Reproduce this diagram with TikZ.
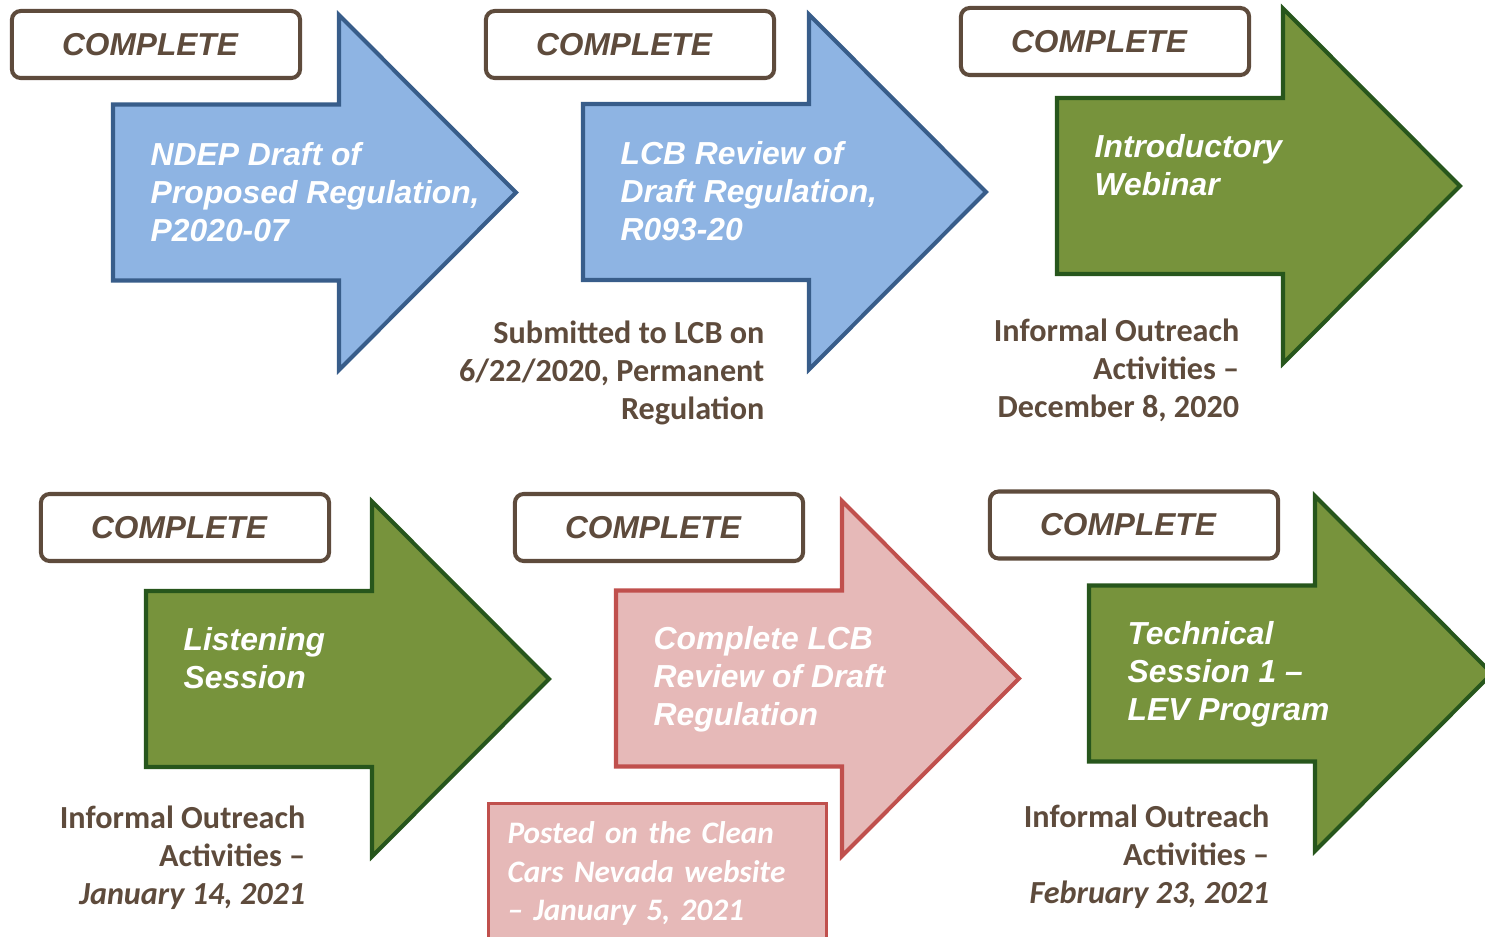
\documentclass[tikz,border=0pt]{standalone}
\usepackage{fontspec}
\setmainfont{Liberation Sans}
\newfontfamily\calibri{Carlito}
\usetikzlibrary{positioning}

\definecolor{brownline}{HTML}{5E4B3C}
\definecolor{fillblue}{HTML}{8EB4E3}
\definecolor{lineblue}{HTML}{385D8A}
\definecolor{fillgreen}{HTML}{77933C}
\definecolor{linegreen}{HTML}{27561C}
\definecolor{fillred}{HTML}{E6B9B8}
\definecolor{linered}{HTML}{C0504D}

\tikzset{
  donebox/.style={draw=brownline, line width=1.15pt, rounded corners=2.5pt, fill=white,
    minimum width=2.88cm, minimum height=0.67cm, inner sep=0pt, text=brownline,
    font=\fontsize{9}{10}\selectfont\bfseries\itshape,
    execute at end node={\hspace*{0.12cm}}},
  stagetext/.style={anchor=north west, inner sep=0pt, align=left, text=white,
    font=\fontsize{9.05}{10.8}\selectfont\bfseries\itshape},
  notetext/.style={anchor=north east, inner sep=0pt, align=right, text=brownline,
    font=\calibri\fontsize{9.15}{10.8}\selectfont\bfseries},
  postbox/.style={draw=linered, line width=0.85pt, fill=fillred, anchor=north west,
    minimum width=3.38cm, minimum height=1.4cm, text width=3.0cm, inner xsep=0.19cm,
    align=left, text=white, font=\calibri\fontsize{8.9}{10.9}\selectfont\bfseries\itshape},
}

\begin{document}
\begin{tikzpicture}[x=0.01cm, y=-0.01cm]
  \useasboundingbox (0,0) rectangle (1485,937);

  % block arrows: left end of shaft, middle line, colour
  \foreach \x/\y/\c in {113/192.5/blue, 583/192/blue, 1057/186/green,
                        146/679/green, 616/678.5/red, 1089/673.5/green}
  {
    \draw[line width=1.15pt, draw=line\c, fill=fill\c]
      (\x,\y-88) -- (\x+226,\y-88) -- (\x+226,\y-177.5) -- (\x+403,\y)
      -- (\x+226,\y+177.5) -- (\x+226,\y+88) -- (\x,\y+88) -- cycle;
  }

  \foreach \n/\x/\y in {1/156/44.5, 2/630/44.5, 3/1105/41.5,
                        4/185/527.5, 5/659/527.5, 6/1134/525}
    \node[donebox] (done\n) at (\x,\y) {COMPLETE};

  \node[stagetext] (stage1) at (150,142) {NDEP Draft of\\Proposed Regulation,\\P2020-07};
  \node[stagetext] (stage2) at (620,141) {LCB Review of\\Draft Regulation,\\R093-20};
  \node[stagetext] (stage3) at (1094,134) {Introductory\\Webinar};
  \node[stagetext] (stage4) at (183,627) {Listening\\Session};
  \node[stagetext] (stage5) at (653,626) {Complete LCB\\Review of Draft\\Regulation};
  \node[stagetext] (stage6) at (1127,621) {Technical\\Session 1 –\\LEV Program};

  \node[notetext] (note2) at (765,320) {Submitted to LCB on\\6/22/2020, Permanent\\Regulation};
  \node[notetext] (note3) at (1240,318) {Informal Outreach\\Activities –\\December 8, 2020};
  \node[notetext] (note4) at (306,805) {Informal Outreach\\Activities –\\\itshape January 14, 2021};
  \node[notetext] (note6) at (1270,804) {Informal Outreach\\Activities –\\\itshape February 23, 2021};

  \node[postbox] (post5) at (487,802) {Posted on the Clean\\Cars Nevada website\\– January 5, 2021};
\end{tikzpicture}
\end{document}
